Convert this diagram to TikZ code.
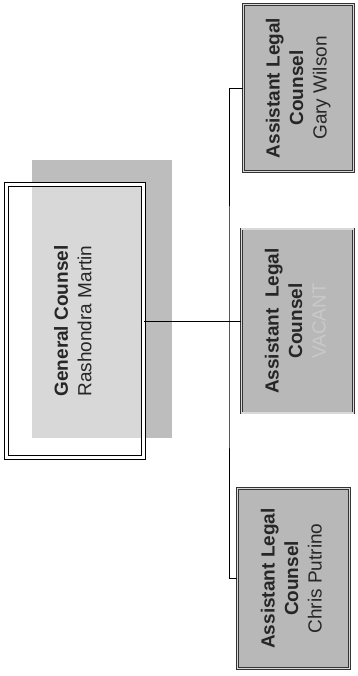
\documentclass[tikz,border=0pt]{standalone}
\usepackage{fontspec}
\setmainfont{Liberation Sans}
\usepackage{graphicx}
\usetikzlibrary{positioning}
\newcommand{\vtext}[1]{\rotatebox{90}{\fontsize{19}{23.5}\selectfont\begin{tabular}{@{}c@{}}#1\end{tabular}}}

\begin{document}
\begin{tikzpicture}[x=1pt,y=-1pt]
\tikzstyle{staff}=[rectangle,draw=black!80,line width=0.6pt,double=gray!30,double distance=1.6pt,fill=gray!56,text=black!85,inner sep=0pt]
\tikzstyle{head}=[rectangle,draw=black,line width=0.6pt,double=white,double distance=3.4pt,fill=white,fill opacity=0.42,text opacity=1,text=black!85,inner sep=0pt]
\tikzstyle{link}=[draw=black,line width=0.6pt]
\useasboundingbox (0,0) rectangle (357,676);
\fill[gray!52] (32,160) rectangle (172,438);
\node[head,minimum width=137pt,minimum height=273pt] (gc) at (75,321) {\vtext{\textbf{General Counsel}\\Rashondra Martin}};
\node[staff,minimum width=110pt,minimum height=167pt] (gary) at (298.5,88) {\vtext{\textbf{Assistant Legal}\\\textbf{Counsel}\\Gary Wilson}};
\node[staff,minimum width=112pt,minimum height=184pt] (vacant) at (297.5,321) {\vtext{\textbf{Assistant\ \ Legal}\\\textbf{Counsel}\\\textcolor{gray!42}{VACANT}}};
\node[staff,minimum width=112pt,minimum height=180pt] (chris) at (293.5,578.5) {\vtext{\textbf{Assistant Legal}\\\textbf{Counsel}\\Chris Putrino}};
\coordinate (bus) at (229,321);
\draw[link] (gc.east) -- (vacant.west);
\draw[link] (gary.west) -| (bus) |- (chris.west);
\end{tikzpicture}
\end{document}
